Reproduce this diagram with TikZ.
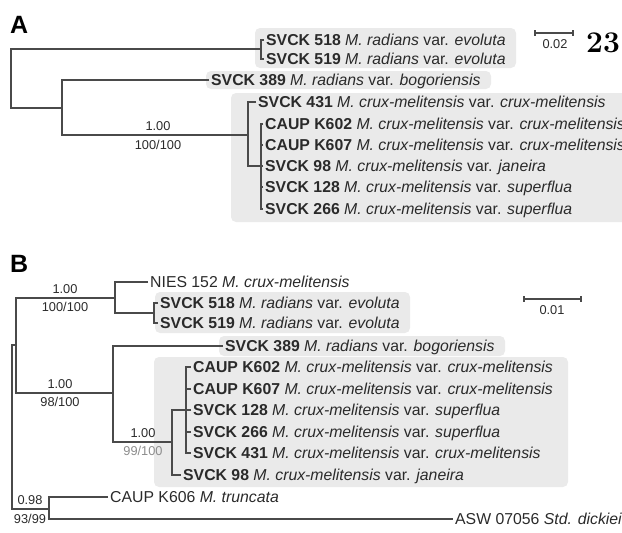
\documentclass[tikz,border=0pt]{standalone}
\usepackage{fontspec}
\newfontfamily\arial{Liberation Sans}
\definecolor{linec}{HTML}{4A4A4A}
\definecolor{boxg}{HTML}{EAEAEA}
\definecolor{txt}{HTML}{2A2A2A}
\definecolor{suplight}{HTML}{8C8C8C}
\newcommand\tipfont{\arial\fontsize{15.8}{18}\selectfont}
\newcommand\supfont{\arial\fontsize{12.8}{14}\selectfont}
\newcommand\panelfont{\arial\bfseries\fontsize{25}{28}\selectfont}
\newcommand\numfont{\rmfamily\bfseries\fontsize{30}{32}\selectfont}
\newcommand\tipl[4]{\textbf{#1} \textit{#2} var. \textit{#3}#4}
\begin{document}
\begin{tikzpicture}[x=1pt,y=-1pt,
  tree/.style={draw=linec, line width=1.9pt},
  tipn/.style={anchor=west, inner sep=2pt, text height=11pt, text depth=0pt, text=txt, font=\tipfont},
  supn/.style={inner sep=0pt, text=txt, font=\supfont},
  clade/.style={fill=boxg, rounded corners=5pt},
  panel/.style={anchor=base west, inner sep=0pt, font=\panelfont, text=black},
  scalen/.style={inner sep=0pt, font=\supfont, text=txt}]
\useasboundingbox (0,0) rectangle (622,533);
\clip (0,0) rectangle (622,533);

% ---------------- Panel A ----------------
\node[panel] (pA) at (10,33) {A};
\fill[clade] (255,28) rectangle (516,68);
\fill[clade] (206,71) rectangle (491,89);
\fill[clade] (231,93) rectangle (660,222);

\node[tipn] (tA518) at (264,40) {\tipl{SVCK 518}{M. radians}{evoluta}{}};
\node[tipn] (tA519) at (264,59) {\tipl{SVCK 519}{M. radians}{evoluta}{}};
\node[tipn] (tA389) at (209,80) {\tipl{SVCK 389}{M. radians}{bogoriensis}{}};
\node[tipn] (tA431) at (256,102) {\tipl{SVCK 431}{M. crux-melitensis}{crux-melitensis}{}};
\node[tipn] (tA602) at (263,124) {\tipl{CAUP K602}{M. crux-melitensis}{crux-melitensis}{}};
\node[tipn] (tA607) at (263,145) {\tipl{CAUP K607}{M. crux-melitensis}{crux-melitensis}{}};
\node[tipn] (tA98)  at (263,166) {\tipl{SVCK 98}{M. crux-melitensis}{janeira}{}};
\node[tipn] (tA128) at (263,187) {\tipl{SVCK 128}{M. crux-melitensis}{superflua}{}};
\node[tipn] (tA266) at (263,209) {\tipl{SVCK 266}{M. crux-melitensis}{superflua}{}};

\coordinate (rA) at (11,78);
\coordinate (cA1) at (261,49);
\coordinate (cA2) at (62,108);
\coordinate (cA3) at (248,135);
\coordinate (cA4) at (261,166);

\draw[tree] (cA1) -| (rA) |- (cA2);
\draw[tree] (tA518.west) -| (cA1) |- (tA519.west);
\draw[tree] (tA389.west) -| (cA2) |- (cA3);
\draw[tree] (tA431.west) -| (cA3) |- (cA4);
\draw[tree] (tA602.west) -| (cA4) |- (tA266.west);
\draw[tree] (tA607.west) -- (tA607.west -| cA4);
\draw[tree] (tA98.west) -- (cA4);
\draw[tree] (tA128.west) -- (tA128.west -| cA4);

\node[supn] (sA1) at (158,126) {1.00};
\node[supn] (sA2) at (158,145) {100/100};

\coordinate (kA1) at (535,33);
\coordinate (kA2) at (573,33);
\draw[draw=linec, line width=1.3pt] (kA1) -- (kA2);
\draw[draw=linec, line width=1.3pt] ([yshift=3pt]kA1) -- ([yshift=-3pt]kA1);
\draw[draw=linec, line width=1.3pt] ([yshift=3pt]kA2) -- ([yshift=-3pt]kA2);
\node[scalen] (lA) at (555,44) {0.02};
\node[anchor=base west, inner sep=0pt, font=\numfont, text=black] (num) at (586,52) {23};

% ---------------- Panel B ----------------
\node[panel] (pB) at (10,272) {B};
\fill[clade] (155,292) rectangle (410,333);
\fill[clade] (219,336) rectangle (505,356);
\fill[clade] (154,357) rectangle (568,487);

\node[tipn] (tBnies) at (148,282) {NIES 152 \textit{M. crux-melitensis}};
\node[tipn] (tB518) at (158,303) {\tipl{SVCK 518}{M. radians}{evoluta}{}};
\node[tipn] (tB519) at (158,323) {\tipl{SVCK 519}{M. radians}{evoluta}{}};
\node[tipn] (tB389) at (223,346) {\tipl{SVCK 389}{M. radians}{bogoriensis}{}};
\node[tipn] (tB602) at (191,367) {\tipl{CAUP K602}{M. crux-melitensis}{crux-melitensis}{}};
\node[tipn] (tB607) at (191,389) {\tipl{CAUP K607}{M. crux-melitensis}{crux-melitensis}{}};
\node[tipn] (tB128) at (191,410) {\tipl{SVCK 128}{M. crux-melitensis}{superflua}{}};
\node[tipn] (tB266) at (191,432) {\tipl{SVCK 266}{M. crux-melitensis}{superflua}{}};
\node[tipn] (tB431) at (191,453) {\tipl{SVCK 431}{M. crux-melitensis}{crux-melitensis}{}};
\node[tipn] (tB98)  at (181,475) {\tipl{SVCK 98}{M. crux-melitensis}{janeira}{}};
\node[tipn] (tB606) at (108,497) {CAUP K606 \textit{M. truncata}};
\node[tipn] (tBasw) at (453,519) {ASW 07056 \textit{Std. dickiei}};

\coordinate (rB) at (12,420);
\coordinate (cB1) at (16,345);
\coordinate (cB2) at (115,298);
\coordinate (cB3) at (154,313);
\coordinate (cB4) at (113,393);
\coordinate (cB5) at (172,442);
\coordinate (cB6) at (186,410);
\coordinate (cB9) at (49,509);

\draw[tree] (cB1) -| (rB) |- (cB9);
\draw[tree] (cB2) -| (cB1) |- (cB4);
\draw[tree] (tBnies.west) -| (cB2) |- (cB3);
\draw[tree] (tB518.west) -| (cB3) |- (tB519.west);
\draw[tree] (tB389.west) -| (cB4) |- (cB5);
\draw[tree] (cB6) -| (cB5) |- (tB98.west);
\draw[tree] (tB602.west) -| (cB6) |- (tB431.west);
\draw[tree] (tB607.west) -- (tB607.west -| cB6);
\draw[tree] (tB128.west) -- (cB6);
\draw[tree] (tB266.west) -- (tB266.west -| cB6);
\draw[tree] (tB606.west) -| (cB9) |- (tBasw.west);

\node[supn] (sB1) at (65,289) {1.00};
\node[supn] (sB2) at (65,307) {100/100};
\node[supn] (sB3) at (60,384) {1.00};
\node[supn] (sB4) at (60,402) {98/100};
\node[supn] (sB5) at (143,433) {1.00};
\node[supn, text=suplight] (sB6) at (143,451) {99/100};
\node[supn] (sB7) at (30,500) {0.98};
\node[supn] (sB8) at (30,519) {93/99};

\coordinate (kB1) at (524,299);
\coordinate (kB2) at (581,299);
\draw[draw=linec, line width=1.3pt] (kB1) -- (kB2);
\draw[draw=linec, line width=1.3pt] ([yshift=3pt]kB1) -- ([yshift=-3pt]kB1);
\draw[draw=linec, line width=1.3pt] ([yshift=3pt]kB2) -- ([yshift=-3pt]kB2);
\node[scalen] (lB) at (552,310) {0.01};
\end{tikzpicture}
\end{document}
